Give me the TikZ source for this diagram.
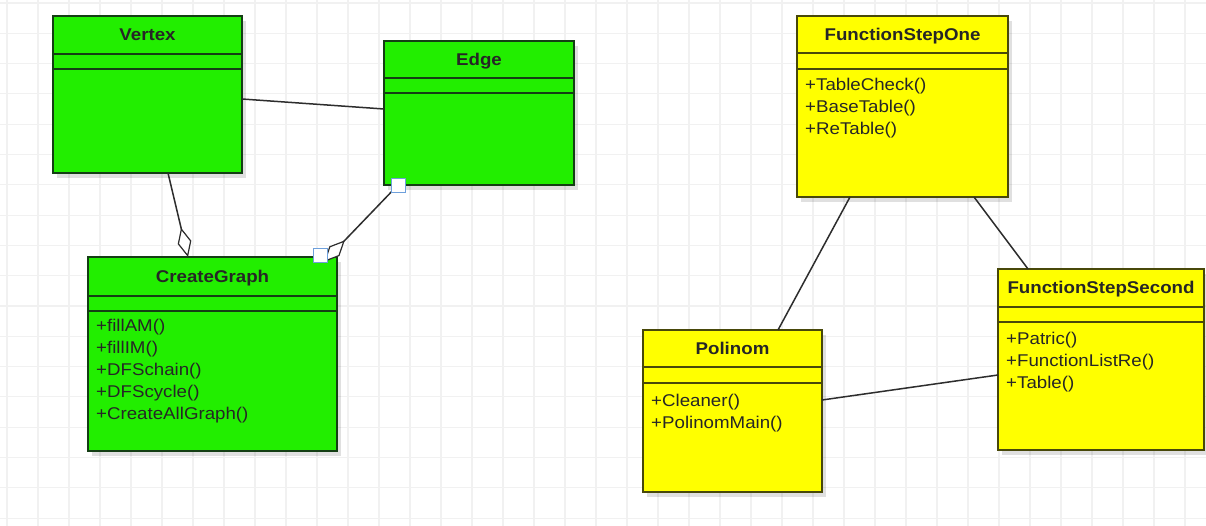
\documentclass[tikz,border=0pt]{standalone}
\usepackage{fontspec}
\setmainfont{Liberation Sans}[FakeStretch=1.1]
\usetikzlibrary{arrows.meta,shadows}

\definecolor{greenfill}{RGB}{34,238,0}
\definecolor{yellowfill}{RGB}{255,255,0}
\definecolor{greenrule}{RGB}{20,62,20}
\definecolor{yellowrule}{RGB}{72,72,10}
\definecolor{gridgray}{RGB}{241,241,241}
\definecolor{linkgray}{RGB}{45,45,45}
\definecolor{handleblue}{RGB}{110,160,220}

\tikzset{
  classbox/.style={rectangle, anchor=north west, outer sep=0pt, inner sep=0pt,
    line width=1.6pt,
    drop shadow={shadow xshift=4pt, shadow yshift=-5pt, opacity=0.12, fill=black}},
  greenclass/.style={classbox, fill=greenfill, draw=greenrule},
  yellowclass/.style={classbox, fill=yellowfill, draw=yellowrule},
  classtitle/.style={font=\fontsize{17}{20}\selectfont\bfseries, text=black!85,
    inner sep=0pt, anchor=base},
  operation/.style={font=\fontsize{17}{20}\selectfont, text=black!85,
    inner sep=0pt, anchor=base west},
  gridline/.style={draw=gridgray, line width=1.1pt},
  link/.style={draw=linkgray, line width=1.5pt},
  aggregation/.style={link,
    -{Diamond[fill=white, length=30pt, width=14pt, line width=1.2pt]}},
  handle/.style={rectangle, draw=handleblue, fill=white, line width=1pt,
    minimum size=14pt, inner sep=0pt},
}

% #1 name, #2 colour (green/yellow), #3 top-left corner, #4 width, #5 height,
% #6 title band height, #7 attribute band height, #8 class name
\newcommand{\umlclass}[8]{%
  \node[#2class, minimum width=#4pt, minimum height=#5pt] (#1) at (#3) {};
  \draw[line width=1.6pt, #2rule]
    ([yshift=-#6pt]#1.north west) -- ([yshift=-#6pt]#1.north east);
  \draw[line width=1.6pt, #2rule]
    ([yshift={-(#6+#7)*1pt}]#1.north west) -- ([yshift={-(#6+#7)*1pt}]#1.north east);
  \node[classtitle] (#1-title) at ([yshift={-(#6/2+6)*1pt}]#1.north) {#8};
}

% #1 class, #2 baseline of the first operation below the top, #3 operations
\newcommand{\umlops}[3]{%
  \foreach \op [count=\k from 0] in {#3} {
    \node[operation] (#1-op\k) at ([xshift=8pt, yshift={-(#2+22*\k)*1pt}]#1.north west) {\op};
  }
}

\begin{document}
\begin{tikzpicture}[x=1pt, y=-1pt]
  \useasboundingbox (0,0) rectangle (1206,526);
  \fill[white] (0,0) rectangle (1206,526);

  % background grid
  \foreach \gx in {0,...,38} \draw[gridline] ({7+31*\gx},0) -- ({7+31*\gx},526);
  \foreach \gy in {0,...,17} \draw[gridline] (0,{3+30.3*\gy}) -- (1206,{3+30.3*\gy});

  % graph classes
  \umlclass{vertex}{green}{53,16}{189}{157}{38}{15}{Vertex}
  \umlclass{edge}{green}{384,41}{190}{144}{37}{15}{Edge}
  \umlclass{cgraph}{green}{88,257}{249}{194}{39}{15}{CreateGraph}
  \umlops{cgraph}{74}{+fillAM(),+fillIM(),+DFSchain(),+DFScycle(),+CreateAllGraph()}

  % polynomial classes
  \umlclass{stepone}{yellow}{797,16}{211}{181}{37}{16}{FunctionStepOne}
  \umlops{stepone}{75}{+TableCheck(),+BaseTable(),+ReTable()}
  \umlclass{polinom}{yellow}{643,330}{179}{162}{37}{16}{Polinom}
  \umlops{polinom}{76}{+Cleaner(),+PolinomMain()}
  \umlclass{steptwo}{yellow}{998,269}{206}{181}{38}{15}{FunctionStepSecond}
  \umlops{steptwo}{75}{+Patric(),+FunctionListRe(),+Table()}

  % associations
  \draw[link] ([yshift=-83pt]vertex.north east) -- ([yshift=-68pt]edge.north west);
  \draw[aggregation] ([xshift=115pt]vertex.south west) -- ([xshift=100pt]cgraph.north west);
  \draw[aggregation] ([xshift=13pt,yshift=-1pt]edge.south west)
    -- ([xshift=-13pt,yshift=-5pt]cgraph.north east);
  \draw[link] ([xshift=53pt]stepone.south west) -- ([xshift=135pt]polinom.north west);
  \draw[link] ([xshift=177pt]stepone.south west) -- ([xshift=30pt]steptwo.north west);
  \draw[link] ([yshift=-70pt]polinom.north east) -- ([yshift=-106pt]steptwo.north west);

  % selection handles of the Edge--CreateGraph link
  \node[handle] (h-edge) at ([xshift=14pt,yshift=-1pt]edge.south west) {};
  \node[handle] (h-cgraph) at ([xshift=-17pt,yshift=1pt]cgraph.north east) {};
\end{tikzpicture}
\end{document}
